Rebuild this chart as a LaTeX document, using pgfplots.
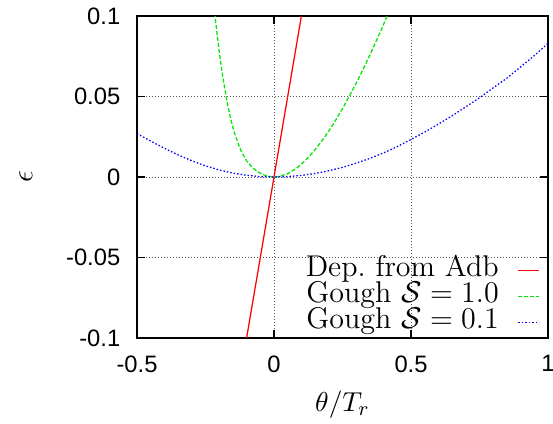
\documentclass[border=0pt]{standalone}
\usepackage{fontspec}
\setsansfont{Liberation Sans}
\usepackage{pgfplots}
\pgfplotsset{compat=1.18}
\definecolor{gpred}{RGB}{255,0,0}
\definecolor{gpgreen}{RGB}{0,230,0}
\definecolor{gpblue}{RGB}{0,0,255}
\begin{document}
\begin{tikzpicture}
\begin{axis}[name=ax,
  scale only axis, width=164.4pt, height=128.8pt,
  xmin=-0.5, xmax=1, ymin=-0.1, ymax=0.1,
  axis line style={line width=0.6pt},
  xtick={-0.5,0,0.5,1}, xticklabels={-0.5,0,0.5,1},
  ytick={-0.1,-0.05,0,0.05,0.1}, yticklabels={-0.1,-0.05,0,0.05,0.1},
  grid=major,
  grid style={line width=0.4pt, gray!70!black, dash pattern=on 0.4pt off 0.8pt},
  tick align=inside, major tick length=3.2pt, tick style={black, line width=0.5pt},
  ticklabel style={font=\sffamily\fontsize{9.5}{10}\selectfont},
  xticklabel style={anchor=north, inner sep=0pt, yshift=-6.8pt},
  yticklabel style={anchor=east, inner sep=0pt, xshift=-6.5pt},
  xlabel={$\theta/T_r$},
  xlabel style={at={(axis description cs:0.5,-0.229)}, anchor=base, inner sep=0pt, font=\fontsize{11}{13}\selectfont},
  ylabel={$\epsilon$},
  ylabel style={at={(axis description cs:-0.27,0.5)}, anchor=center, inner sep=0pt, font=\fontsize{11.5}{13}\selectfont},
  legend style={draw=none, fill=none, at={(rel axis cs:1,0)}, anchor=south east,
    xshift=-3.2pt, yshift=1.1pt, inner sep=0pt, outer sep=0pt, row sep=0pt, column sep=7.6pt,
    nodes={inner sep=0pt, text height=7.6pt, text depth=2.8pt, font=\fontsize{12}{12}\selectfont}},
  legend cell align=right, legend plot pos=right,
  legend image code/.code={\draw[#1] (0pt,0pt) -- (8.4pt,0pt);},
]
\addplot[gpred, line width=0.5pt] coordinates {(-0.1,-0.1) (0.1,0.1)};
\addlegendentry{Dep.\ from Adb}
\addplot[gpgreen, line width=0.5pt, dash pattern=on 1.6pt off 0.8pt] coordinates {
(-0.2185,0.1055) (-0.215,0.0999) (-0.21,0.0922) (-0.2,0.078) (-0.19,0.0657)
(-0.18,0.0551) (-0.17,0.0457) (-0.16,0.0376) (-0.15,0.0308) (-0.14,0.0251)
(-0.12,0.0161) (-0.10,0.0100) (-0.08,0.0061) (-0.06,0.0033) (-0.04,0.0015)
(-0.02,0.00036) (0,0) (0.02,0.00035) (0.05,0.00211) (0.08,0.00522) (0.1,0.00797)
(0.12,0.01121) (0.15,0.01696) (0.18,0.02365) (0.2,0.02859) (0.22,0.0339)
(0.25,0.04248) (0.275,0.0502) (0.3,0.0583) (0.33,0.0686) (0.35,0.0758)
(0.37,0.0833) (0.39,0.0909) (0.413,0.1000) (0.42,0.1028)};
\addlegendentry{Gough $\mathcal{S}=1.0$}
\addplot[gpblue, line width=0.5pt, dash pattern=on 0.6pt off 0.8pt] coordinates {
(-0.5,0.027) (-0.45,0.0223) (-0.4,0.0179) (-0.35,0.0137) (-0.3,0.0101)
(-0.25,0.0069) (-0.2,0.0044) (-0.15,0.0024) (-0.1,0.00105) (-0.05,0.00026) (0,0)
(0.05,0.00025) (0.1,0.00098) (0.15,0.0022) (0.2,0.0039) (0.25,0.0060)
(0.3,0.0086) (0.35,0.01155) (0.4,0.0150) (0.45,0.0189) (0.5,0.0233)
(0.55,0.0279) (0.6,0.0329) (0.65,0.0380) (0.7,0.0436) (0.75,0.0492)
(0.8,0.0554) (0.85,0.0614) (0.9,0.0684) (0.95,0.0754) (1.0,0.083)};
\addlegendentry{Gough $\mathcal{S}=0.1$}
\end{axis}
\pgfresetboundingbox
\path ([shift={(-54.8pt,-34pt)}]ax.south west) rectangle ([shift={(2pt,6.4pt)}]ax.north east);
\end{tikzpicture}
\end{document}
